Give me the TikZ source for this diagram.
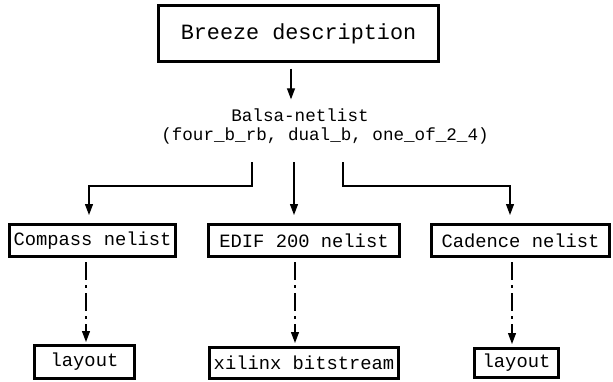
\documentclass[tikz,border=0pt]{standalone}
\usepackage{fontspec}
\setmonofont{Liberation Mono}
\usetikzlibrary{arrows.meta,calc}
\tikzset{
  box/.style={draw, line width=3pt, inner sep=0pt, font=\ttfamily\fontsize{18.8}{20}\selectfont},
  lbl/.style={inner sep=0pt, font=\ttfamily\fontsize{17.6}{20}\selectfont},
  arr/.style={line width=1.2pt, -{Triangle[length=11pt,width=8pt]}},
  darr/.style={arr, dash pattern=on 18pt off 5pt on 3pt off 5pt},
}
\begin{document}
\begin{tikzpicture}[x=1pt,y=-1pt]
\useasboundingbox (0,0) rectangle (613,381);
\node[box, minimum width=280pt, minimum height=56pt, font=\ttfamily\fontsize{21.8}{24}\selectfont] (breeze) at (298.5,33.5) {Breeze description};
\node[lbl] (balsa) at (300,115) {Balsa-netlist};
\node[lbl] (list) at (325,136) {(four\_b\_rb, dual\_b, one\_of\_2\_4)};
\node[box, minimum width=166pt, minimum height=32pt] (compass) at (92.5,240.5) {Compass nelist};
\node[box, minimum width=191pt, minimum height=32pt] (edif) at (304,240.5) {EDIF 200 nelist};
\node[box, minimum width=178pt, minimum height=32pt] (cadence) at (520.5,240.5) {Cadence nelist};
\node[box, minimum width=100pt, minimum height=33pt] (lay1) at (84.5,362) {layout};
\node[box, minimum width=189pt, minimum height=31pt] (xil) at (304,363) {xilinx bitstream};
\node[box, minimum width=84pt, minimum height=29pt] (lay2) at (516.5,363) {layout};
% top arrow
\draw[arr] ($(breeze.south -| 291,0)+(0,5.5)$) -- ($(balsa.north -| 291,0)+(0,-9)$);
% branches
\draw[arr] ($(list.south -| 252,0)+(0,18)$) -- (252,186) -| ($(compass.north -| 89,0)+(0,-8)$);
\draw[arr] ($(list.south -| 294,0)+(0,18)$) -- ($(edif.north -| 294,0)+(0,-8)$);
\draw[arr] ($(list.south -| 343,0)+(0,18)$) -- (343,186) -| ($(cadence.north -| 510,0)+(0,-8)$);
% dashed arrows
\draw[darr] ($(compass.south -| 86,0)+(0,4)$) -- ($(lay1.north -| 86,0)+(0,-2)$);
\draw[darr] ($(edif.south -| 295,0)+(0,4)$) -- ($(xil.north -| 295,0)+(0,-3)$);
\draw[darr] ($(cadence.south -| 512,0)+(0,4)$) -- ($(lay2.north -| 512,0)+(0,-3)$);
\end{tikzpicture}
\end{document}
